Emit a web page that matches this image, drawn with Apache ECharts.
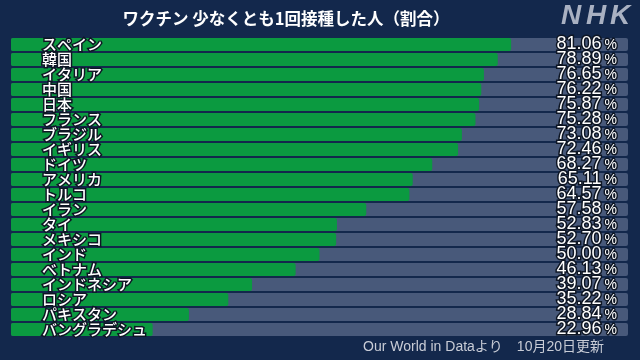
<!DOCTYPE html>
<html><head><meta charset="utf-8">
<script src="https://cdn.jsdelivr.net/npm/echarts@6/dist/echarts.min.js"></script>
<style>html,body{margin:0;padding:0;background:#13284c}#c{width:640px;height:360px}</style>
</head><body><div id="c"></div>
<script>
const titleText = 'ワクチン 少なくとも1回接種した人（割合）';
const sourceText = 'Our World in Dataより　10月20日更新';
const countries = ['スペイン','韓国','イタリア','中国','日本','フランス','ブラジル','イギリス','ドイツ','アメリカ','トルコ','イラン','タイ','メキシコ','インド','ベトナム','インドネシア','ロシア','パキスタン','バングラデシュ'];
const values = [81.06,78.89,76.65,76.22,75.87,75.28,73.08,72.46,68.27,65.11,64.57,57.58,52.83,52.70,50.00,46.13,39.07,35.22,28.84,22.96];

const chart = echarts.init(document.getElementById('c'), null, {renderer:'canvas'});
const outline = {textBorderColor:'#0e1624', textBorderWidth:3};
chart.setOption({
  backgroundColor:'#13284c',
  animation:false,
  grid:{left:11,right:12,top:37,height:300,containLabel:false},
  xAxis:{type:'value',min:0,max:100,show:false},
  yAxis:[{
    type:'category',data:countries,inverse:true,
    axisLine:{show:false},axisTick:{show:false},splitLine:{show:false},
    axisLabel:{inside:true,margin:31,interval:0,hideOverlap:false,color:'#ffffff',fontSize:15,fontWeight:500,
      fontFamily:'"Noto Sans CJK JP"',...outline},
    z:10
  },{
    type:'category',data:values.map(v=>v.toFixed(2)),inverse:true,position:'right',
    axisLine:{show:false},axisTick:{show:false},splitLine:{show:false},
    axisLabel:{inside:true,margin:11,interval:0,hideOverlap:false,
      formatter:v=>'{n|'+v+'}{p|%}',
      rich:{
        n:{color:'#ffffff',fontSize:18,fontFamily:'"Liberation Sans",Arial',...outline},
        p:{color:'#ffffff',fontSize:14,fontFamily:'"Liberation Sans",Arial',padding:[2,0,0,3],...outline}
      }},
    z:10
  }],
  series:[{
    type:'bar',data:values,barWidth:13,
    itemStyle:{color:'#0b9a40',borderRadius:2},
    showBackground:true,
    backgroundStyle:{color:'#48597a',borderRadius:2},
    z:2
  }],
  graphic:[
    {type:'text',x:286,y:19,style:{text:titleText,fill:'#ffffff',fontSize:16.5,fontWeight:'bold',
      fontFamily:'"Noto Sans CJK JP"',align:'center',verticalAlign:'middle'}},
    {type:'text',x:571,y:16,style:{text:'N',fill:'#a9b1c2',fontSize:28,fontWeight:900,fontStyle:'italic',
      fontFamily:'"Liberation Sans",Arial',align:'center',verticalAlign:'middle'}},
    {type:'text',x:596,y:16,style:{text:'H',fill:'#a9b1c2',fontSize:28,fontWeight:900,fontStyle:'italic',
      fontFamily:'"Liberation Sans",Arial',align:'center',verticalAlign:'middle'}},
    {type:'text',x:620,y:16,style:{text:'K',fill:'#a9b1c2',fontSize:28,fontWeight:900,fontStyle:'italic',
      fontFamily:'"Liberation Sans",Arial',align:'center',verticalAlign:'middle'}},
    {type:'text',x:604,y:347,style:{text:sourceText,fill:'#c8ccd6',fontSize:14,
      fontFamily:'"Liberation Sans","Noto Sans CJK JP"',align:'right',verticalAlign:'middle'}}
  ]
});
</script></body></html>
